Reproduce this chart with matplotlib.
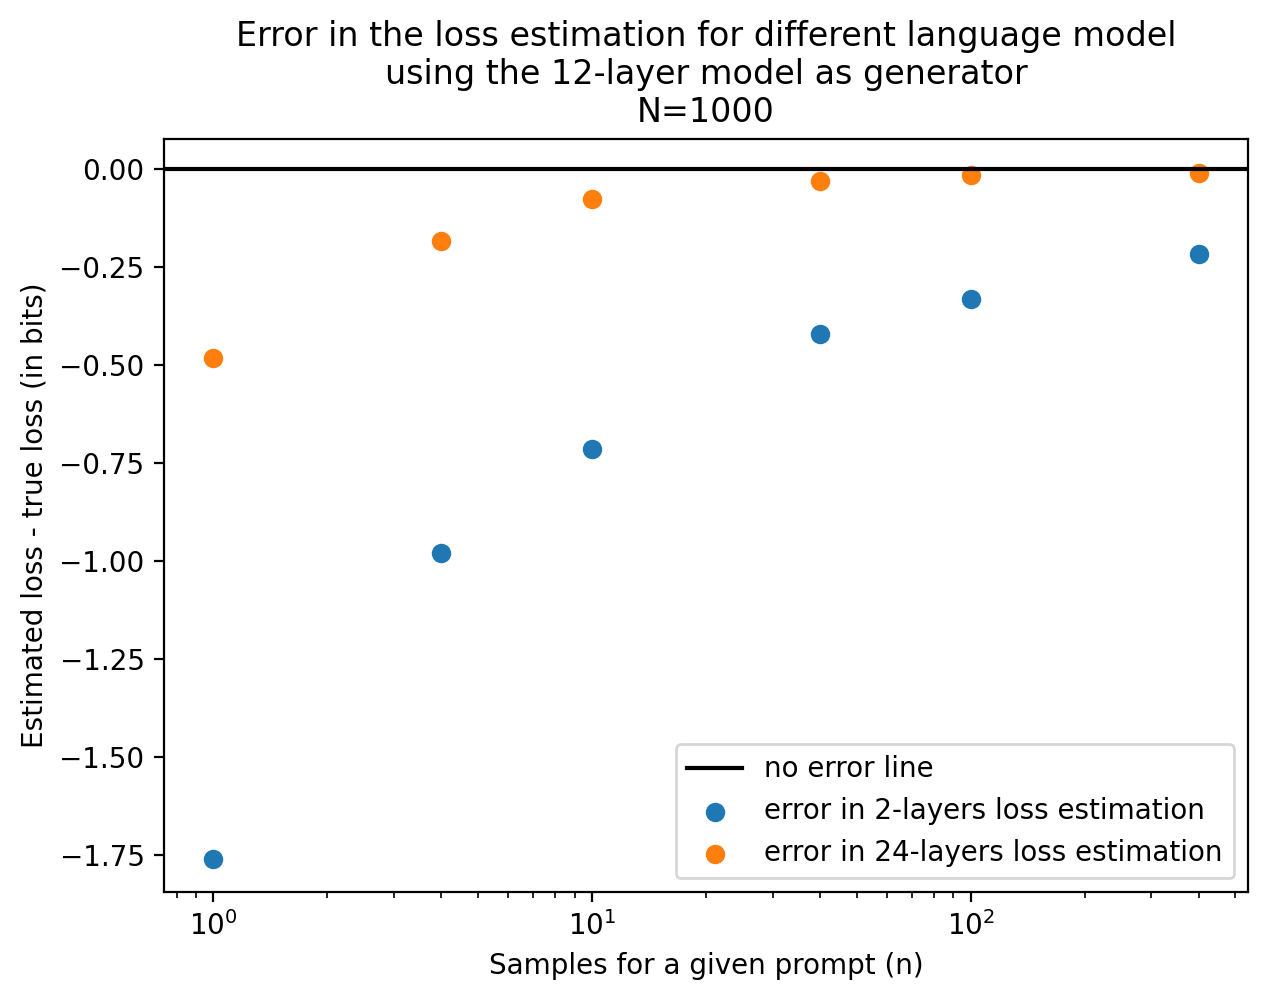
import matplotlib
matplotlib.use("Agg")
import matplotlib.pyplot as plt

n_samples = [1, 4, 10, 40, 100, 400]
err_2_layers = [-1.760, -0.979, -0.714, -0.420, -0.331, -0.217]
err_24_layers = [-0.482, -0.183, -0.076, -0.030, -0.015, -0.010]

fig, ax = plt.subplots(figsize=(6.34, 5.01), dpi=200)
ax.axhline(0, color="black", label="no error line")
ax.scatter(n_samples, err_2_layers, label="error in 2-layers loss estimation")
ax.scatter(n_samples, err_24_layers, label="error in 24-layers loss estimation")
ax.set_xscale("log")
ax.set_ylim(-1.845, 0.077)
ax.set_xlabel("Samples for a given prompt (n)")
ax.set_ylabel("Estimated loss - true loss (in bits)")
ax.set_title("Error in the loss estimation for different language model\nusing the 12-layer model as generator\nN=1000")
ax.legend(loc="lower right")
fig.subplots_adjust(left=164/1268, right=1248/1268, top=1-139/1002, bottom=1-892/1002)
fig.savefig("out.png", dpi=200)
